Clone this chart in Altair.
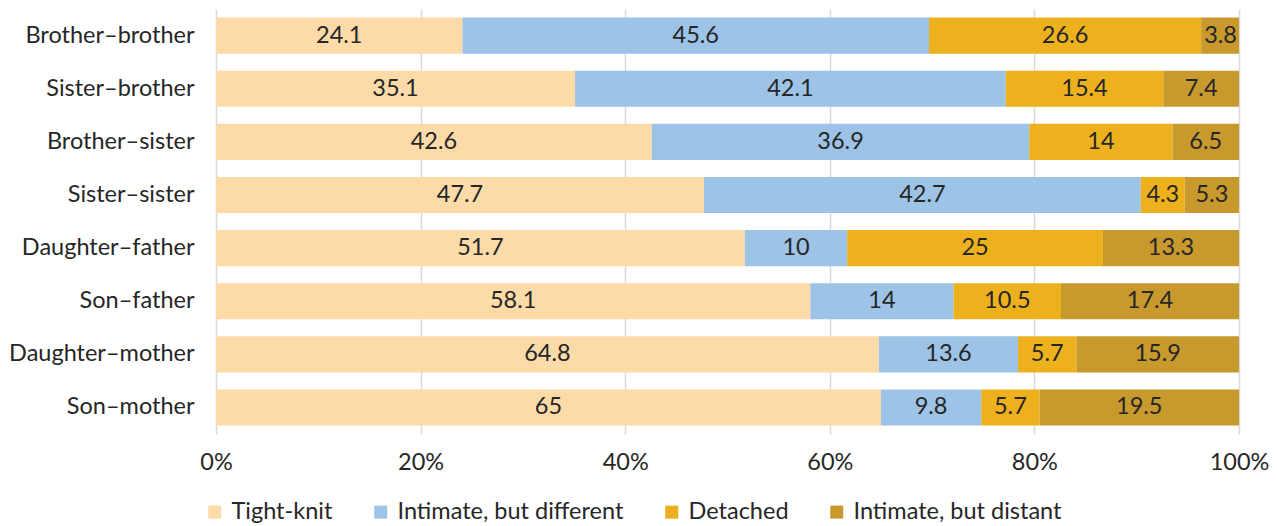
import altair as alt
import pandas as pd

relations = ["Brother–brother", "Sister–brother", "Brother–sister", "Sister–sister",
             "Daughter–father", "Son–father", "Daughter–mother", "Son–mother"]
categories = ["Tight-knit", "Intimate, but different", "Detached", "Intimate, but distant"]
tight = [24.1, 35.1, 42.6, 47.7, 51.7, 58.1, 64.8, 65]
different = [45.6, 42.1, 36.9, 42.7, 10, 14, 13.6, 9.8]
detached = [26.6, 15.4, 14, 4.3, 25, 10.5, 5.7, 5.7]
distant = [3.8, 7.4, 6.5, 5.3, 13.3, 17.4, 15.9, 19.5]
colors = ["#FDDBA9", "#9DC3E6", "#EDB11E", "#C8992D"]
x_ticks = [0, 20, 40, 60, 80, 100]

series = [tight, different, detached, distant]
rows = []
for ci, (cat, vals) in enumerate(zip(categories, series)):
    for rel, v in zip(relations, vals):
        rows.append({"rel": rel, "cat": cat, "order": ci, "value": v})
df = pd.DataFrame(rows)

FONT = "Lato"
TXT = "#262626"
FS = 23.5

base = alt.Chart(df).transform_stack(
    stack="value", groupby=["rel"], sort=[alt.SortField("order")], as_=["x0", "x1"]
).transform_calculate(mid="(datum.x0 + datum.x1) / 2")

yenc = alt.Y("rel:N", sort=relations, title=None,
             scale=alt.Scale(paddingInner=0.32, paddingOuter=0.16),
             axis=alt.Axis(ticks=False, domain=False, labelPadding=22, labelFontSize=FS,
                           labelFont=FONT, labelColor=TXT, labelLimit=0,
                           minExtent=207, maxExtent=207))

xscale = alt.Scale(domain=[0, 100], clamp=True, nice=False)

bars = base.mark_bar().encode(
    x=alt.X("x0:Q", scale=xscale, title=None,
            axis=alt.Axis(values=x_ticks, labelExpr="datum.value + '%'", grid=True,
                          gridColor="#D9D9D9", gridWidth=1.5, ticks=False, domain=False,
                          labelFlush=False, labelOverlap=False,
                          labelPadding=16, labelFontSize=FS, labelFont=FONT, labelColor=TXT)),
    x2="x1:Q",
    y=yenc,
    color=alt.Color("cat:N", sort=categories,
                    scale=alt.Scale(domain=categories, range=colors),
                    legend=alt.Legend(title=None, orient="none", direction="horizontal",
                                      columns=4, legendX=-13, legendY=491, labelLimit=0,
                                      symbolType="square", symbolSize=169, symbolStrokeWidth=0,
                                      labelFontSize=FS, labelFont=FONT, labelColor=TXT,
                                      labelOffset=5, columnPadding=36)),
    order=alt.Order("order:Q"),
)

labels = base.mark_text(fontSize=FS, font=FONT, color=TXT, baseline="middle").encode(
    x=alt.X("mid:Q", scale=xscale),
    y=alt.Y("rel:N", sort=relations),
    text=alt.Text("value:Q"),
)

chart = alt.layer(bars, labels).properties(
    width=1023, height=425,
    padding={"left": 0, "top": 1, "right": 0, "bottom": 0},
).configure_view(stroke=None)

chart.save("out.html", embed_options={"renderer": "svg", "actions": False})
